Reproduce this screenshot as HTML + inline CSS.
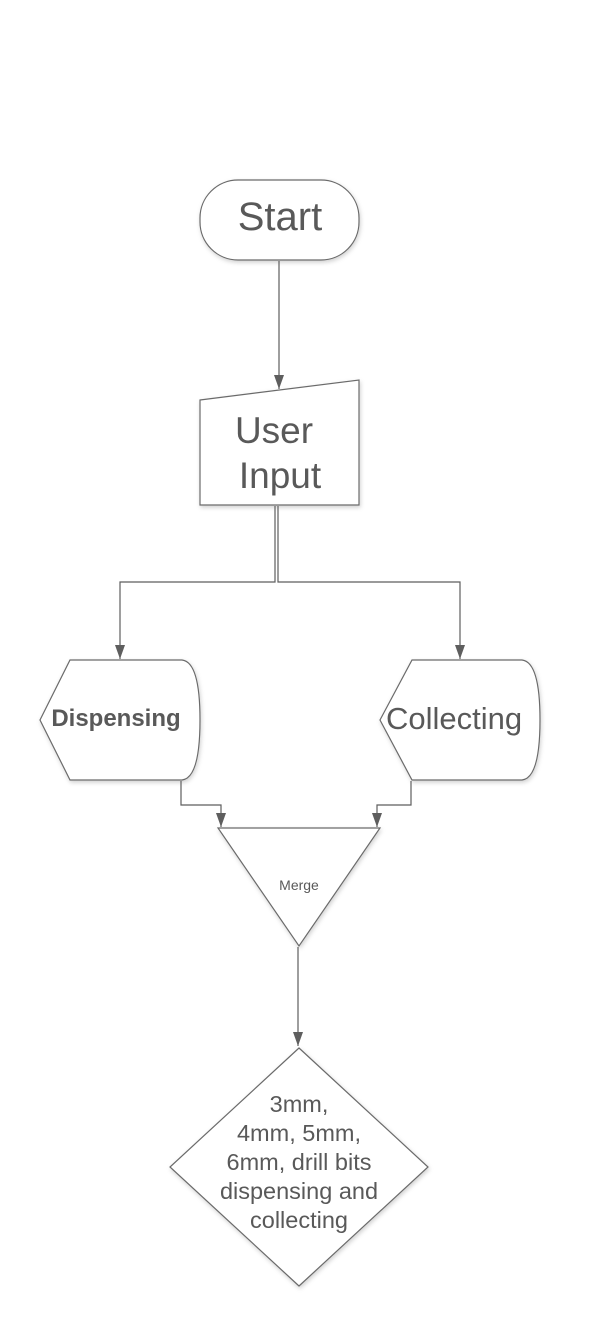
<!DOCTYPE html>
<html><head><style>
body{margin:0;background:#fff;}
svg{display:block;}
text{font-family:"Liberation Sans",Arial,sans-serif;fill:#595959;}
</style></head><body>
<svg width="598" height="1328" viewBox="0 0 598 1328" xmlns="http://www.w3.org/2000/svg">
<defs>
<filter id="sh" x="-20%" y="-20%" width="140%" height="140%"><feDropShadow dx="1" dy="2" stdDeviation="2" flood-color="#000" flood-opacity="0.18"/></filter>
<marker id="ar" markerWidth="14" markerHeight="12" refX="14" refY="5" orient="auto" markerUnits="userSpaceOnUse" viewBox="0 0 14 10"><path d="M0,0 L14,5 L0,10 Z" fill="#5e5e5e"/></marker>
</defs>
<g fill="#fff" stroke="#6b6b6b" stroke-width="1.2" filter="url(#sh)">
<rect x="200" y="180" width="159" height="80" rx="38"/>
<path d="M200,400 L359,380 L359,505 L200,505 Z"/>
<path d="M40,720 L70,660 L182,660 Q200,662 200,720 Q200,778 182,780 L70,780 Z"/>
<path d="M380,720 L412,660 L522,660 Q540,662 540,720 Q540,778 522,780 L412,780 Z"/>
<path d="M218,828 L380,828 L299,946 Z"/>
<path d="M299,1048 L428,1167 L299,1286 L170,1167 Z"/>
</g>
<g fill="none" stroke="#5e5e5e" stroke-width="1.2">
<path d="M279,261 L279,389" marker-end="url(#ar)"/>
<path d="M275,506 L275,582 L120,582 L120,659" marker-end="url(#ar)"/>
<path d="M278,506 L278,582 L460,582 L460,659" marker-end="url(#ar)"/>
<path d="M181,781 L181,805 L221,805 L221,827" marker-end="url(#ar)"/>
<path d="M411,781 L411,805 L377,805 L377,827" marker-end="url(#ar)"/>
<path d="M298,947 L298,1046" marker-end="url(#ar)"/>
</g>
<text x="280" y="230" font-size="40" text-anchor="middle">Start</text>
<text x="274" y="443" font-size="37" text-anchor="middle">User</text>
<text x="280" y="488" font-size="37" text-anchor="middle">Input</text>
<text x="116" y="726" font-size="24" font-weight="bold" text-anchor="middle">Dispensing</text>
<text x="454" y="729" font-size="31" text-anchor="middle">Collecting</text>
<text x="299" y="890" font-size="14" text-anchor="middle">Merge</text>
<g font-size="23.5" text-anchor="middle">
<text x="299" y="1112">3mm,</text>
<text x="299" y="1141">4mm, 5mm,</text>
<text x="299" y="1170">6mm, drill bits</text>
<text x="299" y="1199">dispensing and</text>
<text x="299" y="1228">collecting</text>
</g>
</svg>
</body></html>
